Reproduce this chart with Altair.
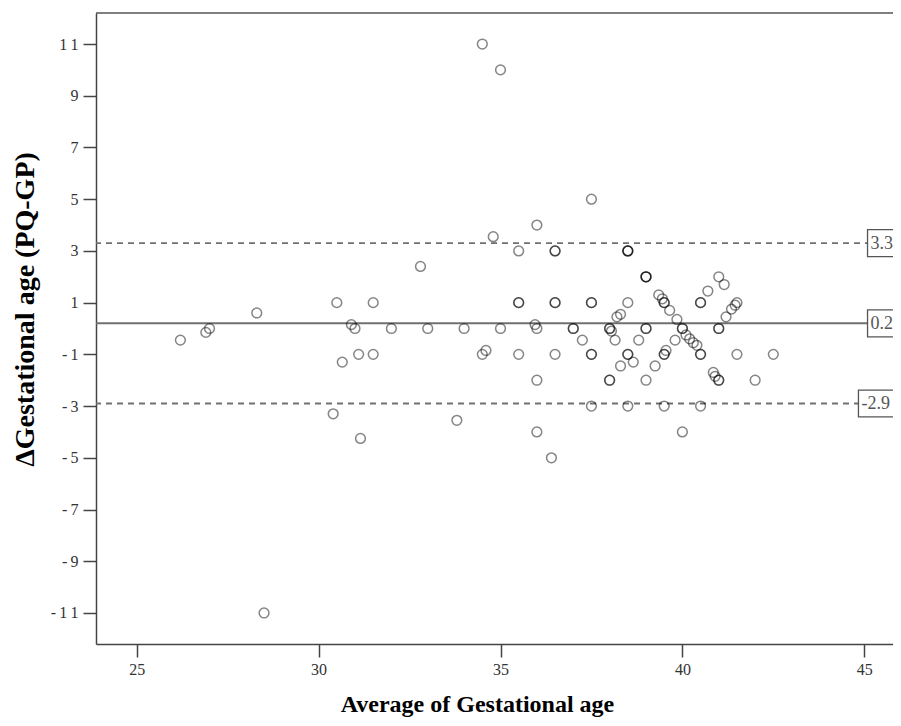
import altair as alt
import pandas as pd

# Bland-Altman data: average of gestational age vs difference (PQ-GP)
avg_ga = [
    26.2, 26.9, 27.0, 28.3, 28.5,
    30.4, 30.5, 30.65, 30.9, 31.0, 31.1, 31.15, 31.5, 31.5,
    32.0, 32.8, 33.0, 33.8, 34.0,
    34.5, 35.0, 34.5, 34.6, 34.8, 35.0,
    35.5, 35.5, 35.5, 35.5,
    35.95, 36.0, 36.0, 36.0, 36.0, 36.4,
    36.5, 36.5, 36.5, 36.5, 36.5,
    37.0, 37.0, 37.25,
    37.5, 37.5, 37.5, 37.5, 37.5, 37.5,
    38.0, 38.0, 38.05, 38.0, 38.0, 38.15, 38.2, 38.3, 38.3,
    38.5, 38.5, 38.5, 38.5, 38.5, 38.5, 38.5, 38.65, 38.8,
    39.0, 39.0, 39.0, 39.0, 39.0, 39.0,
    39.25, 39.35, 39.45, 39.5, 39.5, 39.5, 39.5, 39.5, 39.55, 39.65, 39.8, 39.85,
    40.0, 40.0, 40.0, 40.1, 40.2, 40.3, 40.4,
    40.5, 40.5, 40.5, 40.5, 40.5, 40.7,
    40.85, 40.9, 41.0, 41.0, 41.0, 41.0, 41.0,
    41.15, 41.2, 41.35, 41.45, 41.5, 41.5, 42.0, 42.5,
]
diff_ga = [
    -0.45, -0.15, 0.0, 0.6, -11.0,
    -3.3, 1.0, -1.3, 0.15, 0.0, -1.0, -4.25, 1.0, -1.0,
    0.0, 2.4, 0.0, -3.55, 0.0,
    11.0, 10.0, -1.0, -0.85, 3.55, 0.0,
    3.0, 1.0, 1.0, -1.0,
    0.15, 0.0, 4.0, -2.0, -4.0, -5.0,
    3.0, 3.0, 1.0, 1.0, -1.0,
    0.0, 0.0, -0.45,
    5.0, 1.0, 1.0, -1.0, -1.0, -3.0,
    0.0, 0.0, -0.1, -2.0, -2.0, -0.45, 0.45, 0.55, -1.45,
    3.0, 3.0, 3.0, 1.0, -1.0, -1.0, -3.0, -1.3, -0.45,
    2.0, 2.0, 2.0, 0.0, 0.0, -2.0,
    -1.45, 1.3, 1.15, 1.0, 1.0, -3.0, -1.0, -1.0, -0.85, 0.7, -0.45, 0.35,
    0.0, 0.0, -4.0, -0.25, -0.4, -0.55, -0.65,
    -1.0, -1.0, 1.0, 1.0, -3.0, 1.45,
    -1.7, -1.85, -2.0, -2.0, 2.0, 0.0, 0.0,
    1.7, 0.45, 0.75, 0.9, 1.0, -1.0, -2.0, -1.0,
]

limit_values = [3.3, 0.2, -2.9]
limit_labels = ["3.3", "0.2", "-2.9"]
limit_dashed = [True, False, True]

x_ticks = [25, 30, 35, 40, 45]
y_ticks = [-11, -9, -7, -5, -3, -1, 1, 3, 5, 7, 9, 11]
x_domain = [23.88, 45.79]
y_domain = [-12.2, 12.2]

points = pd.DataFrame({"avg": avg_ga, "diff": diff_ga})
limits = pd.DataFrame({"value": limit_values, "label": limit_labels, "dashed": limit_dashed})

SERIF = "Liberation Serif"
xscale = alt.Scale(domain=x_domain, nice=False, zero=False)
yscale = alt.Scale(domain=y_domain, nice=False, zero=False)

x_axis = alt.Axis(
    values=x_ticks, title="Average of Gestational age", grid=False,
    tickSize=13, tickWidth=1.5, tickColor="#444", domainColor="#444", domainWidth=1.5,
    labelFont=SERIF, labelFontSize=16, labelColor="#333", labelPadding=4,
    titleFont=SERIF, titleFontSize=24, titleFontWeight="bold", titleColor="#000",
    titleX=381, titleY=72, titleBaseline="bottom", titleAlign="center",
)
y_axis = alt.Axis(
    values=y_ticks, title="ΔGestational age (PQ-GP)", grid=False,
    tickSize=13, tickWidth=1.5, tickColor="#444", domainColor="#444", domainWidth=1.5,
    labelFont=SERIF, labelFontSize=16, labelColor="#333", labelPadding=5,
    labelExpr="replace(replace(datum.label, '\u2212', '-\u2009'), '11', '1\u20091')",
    titleFont=SERIF, titleFontSize=28, titleFontWeight="bold", titleColor="#000",
    titleX=-71, titleY=296, titleBaseline="middle", titleAlign="center", titleAngle=270,
)

pts = alt.Chart(points).mark_point(
    shape="circle", filled=False, size=95, strokeWidth=1.5,
    color="#000", strokeOpacity=0.68,
).encode(
    x=alt.X("avg:Q", scale=xscale, axis=x_axis),
    y=alt.Y("diff:Q", scale=yscale, axis=y_axis),
)

dashed_rules = alt.Chart(limits).transform_filter("datum.dashed").mark_rule(
    color="#707070", strokeWidth=1.8, strokeDash=[6, 5]
).encode(y=alt.Y("value:Q", scale=yscale))

solid_rule = alt.Chart(limits).transform_filter("!datum.dashed").mark_rule(
    color="#707070", strokeWidth=2
).encode(y=alt.Y("value:Q", scale=yscale))

boxes_base = alt.Chart(limits).transform_calculate(
    x0=f"{x_domain[1]} - 0.25 * length(datum.label) + 0.05",
    x1=f"{x_domain[1]} + 1",
    y0="datum.value - 0.52",
    y1="datum.value + 0.52",
)
boxes = boxes_base.mark_rect(fill="white", stroke="#555", strokeWidth=1.3, clip=True).encode(
    x=alt.X("x0:Q", scale=xscale), x2="x1:Q",
    y=alt.Y("y0:Q", scale=yscale), y2="y1:Q",
)
box_text = boxes_base.mark_text(
    align="left", baseline="middle", dx=3, dy=1, font=SERIF, fontSize=18, color="#555", clip=True
).encode(
    x=alt.X("x0:Q", scale=xscale),
    y=alt.Y("value:Q", scale=yscale),
    text="label:N",
)

top_border = alt.Chart(pd.DataFrame({"k": [0]})).mark_rule(color="#555", strokeWidth=1.5).encode(
    y=alt.value(0)
)

chart = alt.layer(
    dashed_rules, solid_rule, pts, boxes, box_text, top_border
).properties(
    width=797, height=631,
    autosize=alt.AutoSizeParams(type="none"),
    padding={"left": 88, "top": 5, "right": 0, "bottom": 74},
    background="white",
).configure_view(stroke=None)

chart.save("out.html", embed_options={"renderer": "svg", "actions": False})
